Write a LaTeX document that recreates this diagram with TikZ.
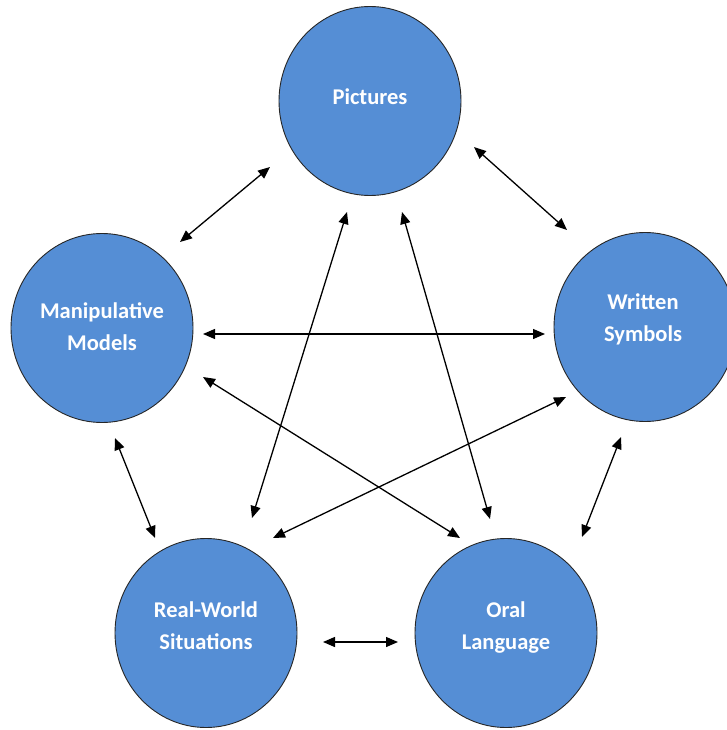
\documentclass[tikz,border=0pt]{standalone}
\usepackage{fontspec}
\setmainfont{Carlito}
\usetikzlibrary{arrows.meta,shapes.geometric}
\definecolor{bubble}{RGB}{85,142,213}
\begin{document}
\begin{tikzpicture}[x=1pt,y=-1pt,
  bub/.style={ellipse, draw=black!85, line width=0.9pt, fill=bubble,
    minimum width=182pt, minimum height=189pt, inner sep=0pt},
  lbl/.style={text=white, font=\fontsize{22.5}{32}\selectfont\bfseries, align=center, inner sep=0pt},
  link/.style={{Triangle[length=12pt,width=10pt]}-{Triangle[length=12pt,width=10pt]}, line width=1.3pt, black}
]
\useasboundingbox (0,0) rectangle (727,730);

\node[bub] (P) at (370,101) {};
\node[bub] (M) at (102,328) {};
\node[bub] (W) at (645,327) {};
\node[bub] (R) at (206,633) {};
\node[bub] (O) at (506,633) {};

\node[lbl] (tP) at (370,97) {Pictures};
\node[lbl] (tM) at (102,327) {Manipulative\\Models};
\node[lbl] (tW) at (643,319) {Written\\Symbols};
\node[lbl] (tR) at (206,626) {Real-World\\Situations};
\node[lbl] (tO) at (506,628) {Oral\\Language};

% arrow end points
\coordinate (pm1) at (270,167); \coordinate (pm2) at (180,242);
\coordinate (pw1) at (474,147); \coordinate (pw2) at (567,230);
\coordinate (mw1) at (203,334); \coordinate (mw2) at (545,334);
\coordinate (mo1) at (203,377); \coordinate (mo2) at (460,538);
\coordinate (mr1) at (115,438); \coordinate (mr2) at (155,538);
\coordinate (pr1) at (347,212); \coordinate (pr2) at (252,518);
\coordinate (po1) at (402,212); \coordinate (po2) at (490,519);
\coordinate (wr1) at (566,397); \coordinate (wr2) at (273,538);
\coordinate (wo1) at (621,437); \coordinate (wo2) at (582,537);
\coordinate (ro1) at (323,642); \coordinate (ro2) at (398,642);

\draw[link] (pm1) -- (pm2);
\draw[link] (pw1) -- (pw2);
\draw[link] (mw1) -- (mw2);
\draw[link] (mo1) -- (mo2);
\draw[link] (mr1) -- (mr2);
\draw[link] (pr1) -- (pr2);
\draw[link] (po1) -- (po2);
\draw[link] (wr1) -- (wr2);
\draw[link] (wo1) -- (wo2);
\draw[link] (ro1) -- (ro2);
\end{tikzpicture}
\end{document}
